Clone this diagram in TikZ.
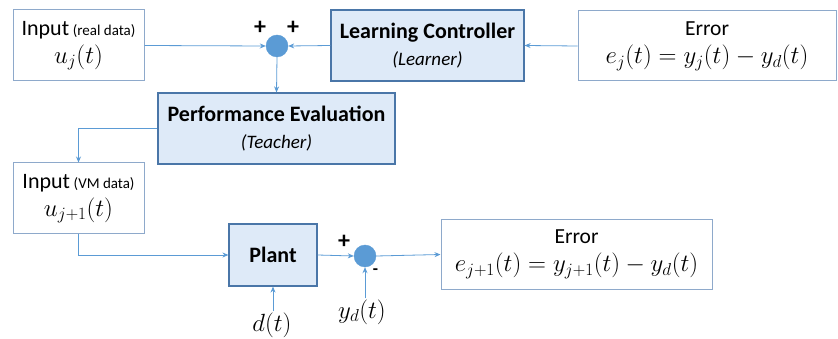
\documentclass[tikz,border=0pt]{standalone}
\usepackage{fontspec}
\setmainfont{Carlito}
\usetikzlibrary{arrows.meta}
\definecolor{lineblue}{HTML}{5B9BD5}
\definecolor{lightborder}{HTML}{8EA9CB}
\definecolor{darkborder}{HTML}{4A76A8}
\definecolor{boxfill}{HTML}{DEEAF8}
\begin{document}
\begin{tikzpicture}[x=1pt,y=-1pt,
  plainbox/.style={draw=lightborder,line width=1pt,fill=white,inner sep=0pt,align=center,font=\fontsize{22}{28}\selectfont},
  bluebox/.style={draw=darkborder,line width=1.2pt,fill=boxfill,inner sep=0pt,align=center,font=\fontsize{22}{27}\selectfont},
  sumnode/.style={circle,fill=lineblue,draw=lineblue,minimum size=22pt,inner sep=0pt},
  conn/.style={draw=lineblue,line width=0.8pt,-{Stealth[length=6pt,width=5pt]}},
  sgn/.style={font=\fontsize{24}{24}\selectfont\bfseries,inner sep=0pt},
  ]
\useasboundingbox (0,0) rectangle (838,339);
\node[plainbox,minimum width=131pt,minimum height=71pt] (inR) at (78.5,45.5)
  {Input\,{\fontsize{15}{15}\selectfont(real data)}\\
   {\fontsize{23}{23}\selectfont$u_j(t)$}};
\node[sumnode] (s1) at (277,46) {};
\node[sgn] at (260,28) {+};
\node[sgn] at (293,28) {+};
\node[bluebox,minimum width=193pt,minimum height=71pt] (lc) at (427.5,45.5)
  {\bfseries Learning Controller\\
   {\fontsize{19}{19}\selectfont\mdseries\itshape (Learner)}};
\node[plainbox,minimum width=258pt,minimum height=70pt] (eT) at (707,46)
  {{\fontsize{21.5}{21.5}\selectfont Error}\\
   {\fontsize{24}{24}\selectfont$e_j(t)=y_j(t)-y_d(t)$}};
\node[bluebox,minimum width=237pt,minimum height=71pt] (pe) at (276.5,128.5)
  {\bfseries Performance Evaluation\\
   {\fontsize{19}{19}\selectfont\mdseries\itshape (Teacher)}};
\node[plainbox,minimum width=131pt,minimum height=71pt] (inV) at (78.5,198.5)
  {Input\,{\fontsize{15}{15}\selectfont(VM data)}\\
   {\fontsize{23}{23}\selectfont$u_{j+1}(t)$}};
\node[bluebox,minimum width=88pt,minimum height=62pt] (pl) at (273,255)
  {\bfseries Plant};
\node[sgn] at (344,242) {+};
\node[sumnode] (s2) at (365,256) {};
\node[sgn,font=\fontsize{17}{17}\selectfont\bfseries] at (375.5,272) {-};
\node[plainbox,minimum width=271pt,minimum height=69pt] (eB) at (576.5,254.5)
  {{\fontsize{21.5}{21.5}\selectfont Error}\\
   {\fontsize{24}{24}\selectfont$e_{j+1}(t)=y_{j+1}(t)-y_d(t)$}};
\node[inner sep=1pt,font=\fontsize{27}{27}\selectfont] (d) at (272,325) {$d(t)$};
\node[inner sep=1pt,font=\fontsize{27}{27}\selectfont] (yd) at (362,312) {$y_d(t)$};
\draw[conn] (inR.east) -- (s1.west);
\draw[conn] (lc.west) -- (s1.east);
\draw[conn] (eT.west) -- (lc.east);
\draw[conn] (s1.south) -- (pe.north);
\draw[conn] (pe.west) -| (inV.north);
\draw[conn] (inV.south) |- (pl.west);
\draw[conn] (pl.east) -- (s2.west);
\draw[conn] (s2.east) -- (eB.west);
\draw[conn] (d.north -| pl.south) -- (pl.south);
\draw[conn] (yd.north -| s2.south) -- (s2.south);
\end{tikzpicture}
\end{document}
